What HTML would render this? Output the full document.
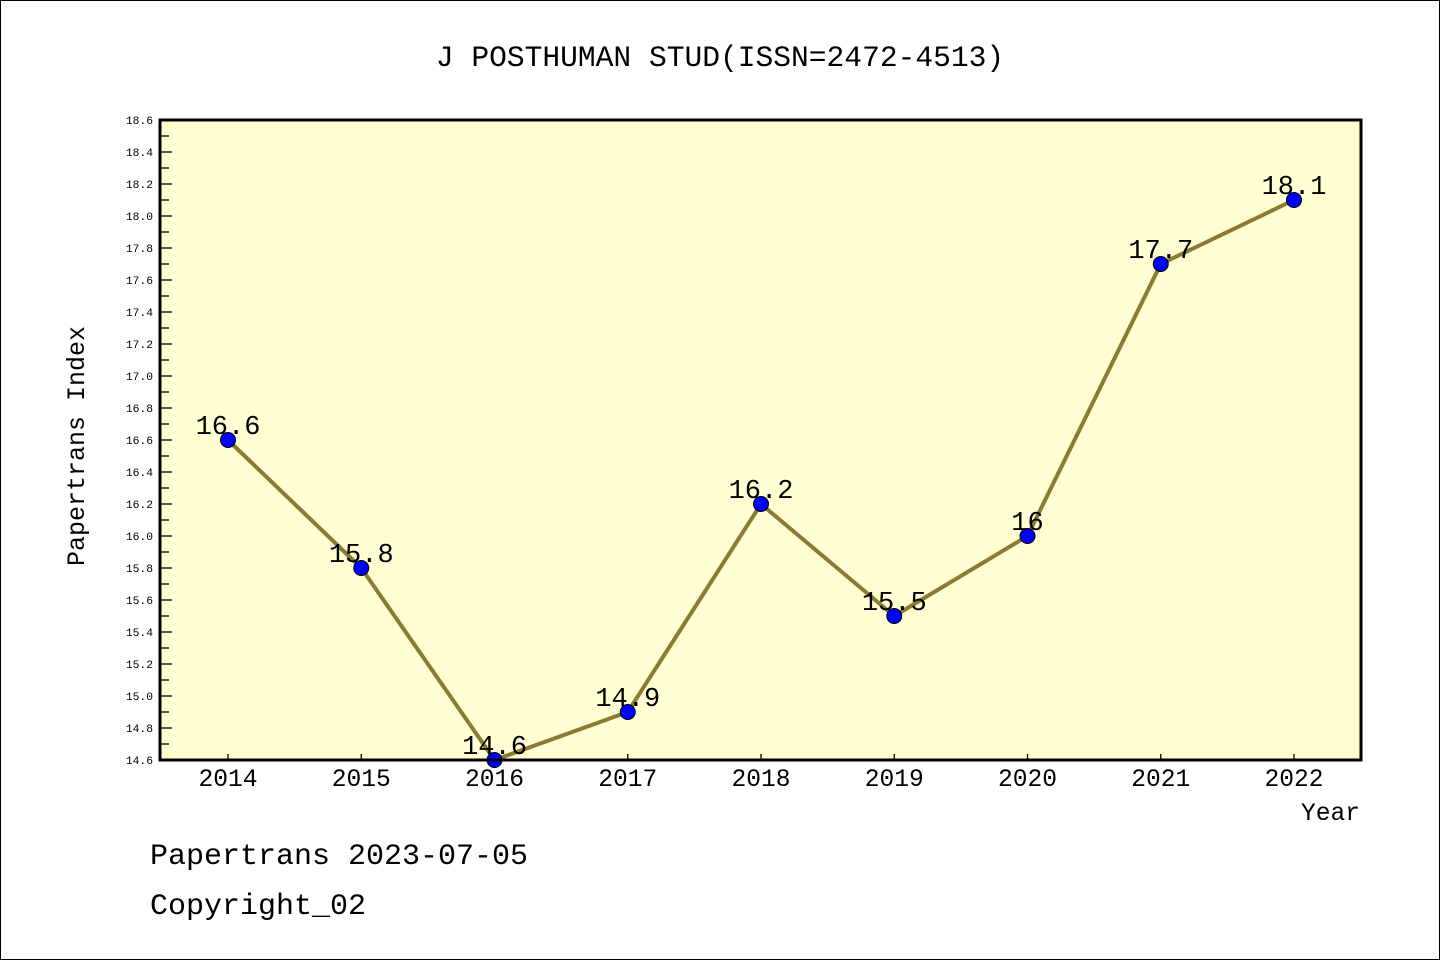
<!DOCTYPE html>
<html><head><meta charset="utf-8"><style>
body{margin:0;background:#fff}
svg{display:block}
text{font-family:"Liberation Mono","WenQuanYi Zen Hei",monospace;fill:#000}
</style></head><body>
<svg id="chart" width="1440" height="960" xmlns="http://www.w3.org/2000/svg">
<rect x="0.5" y="0.5" width="1439" height="959" fill="#fff" stroke="#000"/>
<text x="720" y="66" font-size="29.6" text-anchor="middle">J POSTHUMAN STUD(ISSN=2472-4513)</text>
<rect x="160" y="120" width="1201" height="640" fill="#ffffd3"/>
<g id="yaxis"></g>
<g id="xaxis"></g>
<g id="series"></g>
<rect x="160" y="120" width="1201" height="640" fill="none" stroke="#000" stroke-width="3"/>
<text transform="translate(84,446) rotate(-90)" font-size="25" text-anchor="middle">Papertrans Index</text>
<text x="1360" y="820" font-size="24.6" text-anchor="end">Year</text>
<text x="150" y="864" font-size="30">Papertrans 2023-07-05</text>
<text x="150" y="914" font-size="30">Copyright_02</text>
</svg>
<script>
const years=[2014,2015,2016,2017,2018,2019,2020,2021,2022];
const values=[16.6,15.8,14.6,14.9,16.2,15.5,16.0,17.7,18.1];
const labels=["16.6","15.8","14.6","14.9","16.2","15.5","16","17.7","18.1"];
const yTicks=[14.6,14.8,15.0,15.2,15.4,15.6,15.8,16.0,16.2,16.4,16.6,16.8,17.0,17.2,17.4,17.6,17.8,18.0,18.2,18.4,18.6];
const NS="http://www.w3.org/2000/svg";
const yMin=14.6,yMax=18.6,plotTop=120,plotBot=760;
const yS=v=>plotBot-(v-yMin)/(yMax-yMin)*(plotBot-plotTop);
const xS=yr=>228+(yr-2014)*(1294-228)/8;
function mk(t,a,p){const e=document.createElementNS(NS,t);for(const k in a)e.setAttribute(k,a[k]);p.appendChild(e);return e;}
const ya=document.getElementById('yaxis');
for(let i=0;i<=40;i++){const v=yMin+i*0.1;const major=i%2==0;
 const l=mk('line',{x1:160,x2:major?172:169,y1:yS(v),y2:yS(v),stroke:'#000','stroke-width':1.3},ya);
 
 }
yTicks.forEach(v=>{const t=mk('text',{x:153,y:yS(v)+4,'font-size':11.3,'text-anchor':'end','font-family':'Liberation Sans, sans-serif'},ya);t.textContent=v.toFixed(1);
 
 });
const xa=document.getElementById('xaxis');
years.forEach(yr=>{const l=mk('line',{x1:xS(yr),x2:xS(yr),y1:760,y2:754,stroke:'#000','stroke-width':1.3},xa);
 
 
 const t=mk('text',{x:xS(yr),y:786,'font-size':24.6,'text-anchor':'middle'},xa);t.textContent=yr;
 
 });
const s=document.getElementById('series');
const pl=mk('polyline',{points:years.map((yr,i)=>xS(yr)+','+yS(values[i])).join(' '),fill:'none',stroke:'#8b7b32','stroke-width':4,'stroke-linejoin':'round'},s);


years.forEach((yr,i)=>{const c=mk('circle',{cx:xS(yr),cy:yS(values[i]),r:7.5,fill:'#0000ff',stroke:'#000','stroke-width':1},s);
 
 
 const t=mk('text',{x:xS(yr),y:yS(values[i])-6,'font-size':27,'text-anchor':'middle'},s);t.textContent=labels[i];
 
 });
</script>
</body></html>
